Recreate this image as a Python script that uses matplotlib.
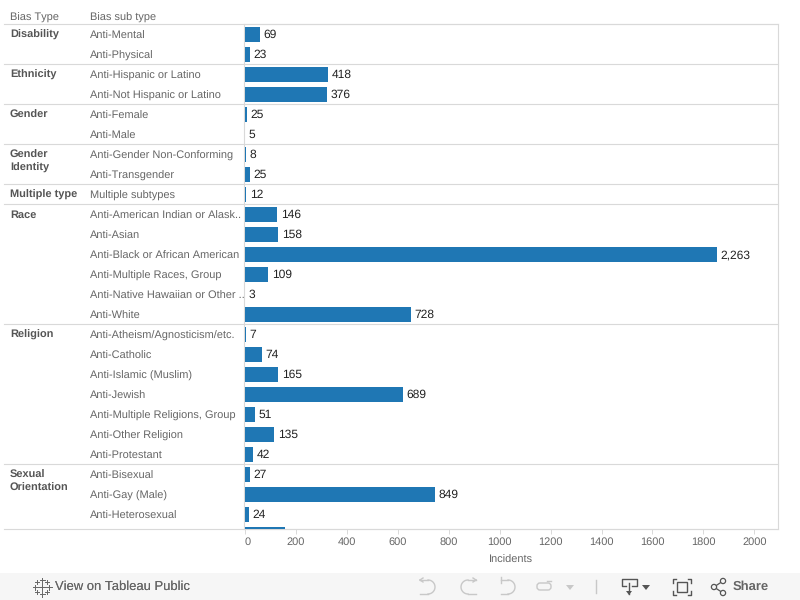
import matplotlib
matplotlib.use("Agg")
import numpy as np
from matplotlib import pyplot as plt
from matplotlib.patches import Rectangle, Circle, FancyBboxPatch
from matplotlib.transforms import blended_transform_factory

plt.rcParams['font.family'] = ['Liberation Sans', 'DejaVu Sans']
plt.rcParams['text.hinting'] = 'no_hinting'
plt.rcParams['text.hinting_factor'] = 1

# group name, number of rows
groups = ["Disability", "Ethnicity", "Gender", "Gender\nIdentity", "Multiple type",
          "Race", "Religion", "Sexual\nOrientation"]
group_sizes = [2, 2, 2, 2, 1, 6, 7, 3]

subtypes = ["Anti-Mental", "Anti-Physical",
            "Anti-Hispanic or Latino", "Anti-Not Hispanic or Latino",
            "Anti-Female", "Anti-Male",
            "Anti-Gender Non-Conforming", "Anti-Transgender",
            "Multiple subtypes",
            "Anti-American Indian or Alask..", "Anti-Asian", "Anti-Black or African American",
            "Anti-Multiple Races, Group", "Anti-Native Hawaiian or Other ..", "Anti-White",
            "Anti-Atheism/Agnosticism/etc.", "Anti-Catholic", "Anti-Islamic (Muslim)", "Anti-Jewish",
            "Anti-Multiple Religions, Group", "Anti-Other Religion", "Anti-Protestant",
            "Anti-Bisexual", "Anti-Gay (Male)", "Anti-Heterosexual"]

# bar lengths, they do not agree with the printed labels in the original
bar_lengths = [59, 20, 326, 322, 8, 0, 4, 20, 4, 126, 130, 1853, 90, 1, 652,
               4, 67, 130, 620, 39, 114, 31, 20, 746, 16]
bar_labels = ["69", "23", "418", "376", "25", "5", "8", "25", "12", "146", "158", "2,263",
              "109", "3", "728", "7", "74", "165", "689", "51", "135", "42", "27", "849", "24"]
# next row of the scrolling table, only its top edge shows
cut_off_bar = 157

x_ticks = [0, 200, 400, 600, 800, 1000, 1200, 1400, 1600, 1800, 2000]

GRID = "#d9d9d9"
GREY = "#666666"
BLUE = "#1f77b4"
ICON = "#c8c8c8"
DARK = "#555555"

fig = plt.figure(figsize=(8, 6), dpi=100)
ax = fig.add_axes([244.5/800, (600-529)/600, 533/800, 505/600])
ax.set_xlim(-2, 2091)
ax.set_ylim(24.75, -0.5)

rows = np.arange(len(subtypes))
ax.barh(rows, bar_lengths, height=0.75, color=BLUE, zorder=3)
ax.barh(len(subtypes), cut_off_bar, height=0.75, color=BLUE, zorder=3)

for r, w, lab in zip(rows, bar_lengths, bar_labels):
    ax.annotate(lab, (w, r), xytext=(2.7, 0), textcoords="offset points",
                va="center_baseline", fontsize=8.4, color="#222222")

for s in ax.spines.values():
    s.set_color(GRID)
    s.set_linewidth(0.8)
ax.set_yticks([])
ax.set_xticks(x_ticks)
ax.tick_params(axis="x", length=3.5, width=0.7, color=GRID, labelcolor=GREY, labelsize=8, pad=2.5)
ax.get_xticklabels()[0].set_x(0)
ax.get_xticklabels()[0].set_horizontalalignment("left")
ax.set_xlabel("Incidents", fontsize=8, color=GREY, labelpad=5)

# left hand table, x in figure fraction and y in rows
tr = blended_transform_factory(fig.transFigure, ax.transData)
for r, name in zip(rows, subtypes):
    ax.text(90/800, r + 0.04, name, transform=tr, fontsize=8, color=GREY, va="center_baseline", clip_on=False)

start = 0
ax.plot([4/800, 777.5/800], [-0.5, -0.5], transform=tr, color=GRID, lw=0.8, clip_on=False, zorder=2)
for name, n in zip(groups, group_sizes):
    ax.text(10/800, start - 0.5 + 0.29, name, transform=tr, fontsize=8, fontweight="bold", color=DARK,
            va="top", linespacing=1.35, clip_on=False)
    start += n
    if start < len(subtypes):
        ax.plot([4/800, 777.5/800], [start - 0.5, start - 0.5], transform=tr, color=GRID, lw=0.8,
                clip_on=False, zorder=2)
ax.plot([4/800, 777.5/800], [24.75, 24.75], transform=tr, color=GRID, lw=0.8, clip_on=False, zorder=2)

fig.text(10/800, 1 - 18/600, "Bias Type", fontsize=8, color=GREY, va="center")
fig.text(90/800, 1 - 18/600, "Bias sub type", fontsize=8, color=GREY, va="center")

# toolbar at the bottom, drawn in pixel coordinates
ui = fig.add_axes([0, 0, 1, 1], zorder=-1)
ui.set_xlim(0, 800)
ui.set_ylim(600, 0)
ui.axis("off")
ui.add_patch(Rectangle((0, 573), 800, 27, color="#f6f6f6", lw=0))
ui.text(55, 587, "View on Tableau Public", fontsize=9.15, color=GREY, va="center")
ui.text(55.3, 587, "View on Tableau Public", fontsize=9.15, color=GREY, va="center")
ui.text(733, 587, "Share", fontsize=9, color=GREY, va="center", fontweight="bold")

# tableau logo
for cx, cy, r in [(42, 587, 3.5), (42, 580, 2.5), (42, 594, 2.5), (35, 587, 2.5), (49, 587, 2.5),
                  (37, 582, 1.8), (47, 582, 1.8), (37, 592, 1.8), (47, 592, 1.8)]:
    ui.plot([cx-r, cx+r], [cy, cy], color=GREY, lw=0.7)
    ui.plot([cx, cx], [cy-r, cy+r], color=GREY, lw=0.7)

# undo / redo / reset / pause icons
t = np.linspace(-np.pi/2, np.pi/2, 30)
ui.plot(428 + 7*np.cos(t), 587 + 7*np.sin(t), color=ICON, lw=1)
ui.plot([420, 428], [580, 580], color=ICON, lw=1)
ui.plot([420, 423], [580, 578], color=ICON, lw=1)
ui.plot([420, 423], [580, 582], color=ICON, lw=1)
ui.plot([420, 428], [594, 594], color=ICON, lw=1)
ui.plot(468 - 7*np.cos(t), 587 + 7*np.sin(t), color=ICON, lw=1)
ui.plot([468, 476], [580, 580], color=ICON, lw=1)
ui.plot([476, 473], [580, 578], color=ICON, lw=1)
ui.plot([476, 473], [580, 582], color=ICON, lw=1)
ui.plot([468, 476], [594, 594], color=ICON, lw=1)
ui.plot(508 + 7*np.cos(t), 587 + 7*np.sin(t), color=ICON, lw=1)
ui.plot([501, 508], [580, 580], color=ICON, lw=1)
ui.plot([501, 501], [577, 583], color=ICON, lw=1)
ui.plot([501, 508], [594, 594], color=ICON, lw=1)
ui.add_patch(FancyBboxPatch((537, 583), 14, 7, boxstyle="round,pad=0,rounding_size=3",
                            fill=False, ec=ICON, lw=1))
ui.plot([547, 551], [581, 581], color=ICON, lw=1)
ui.fill([566, 574, 570], [585, 585, 590], color=ICON, lw=0)
ui.plot([595.5, 595.5], [580, 593], color=ICON, lw=1)

# download
ui.plot([626, 622, 622, 637, 637, 632], [586, 586, 579, 579, 586, 586], color=DARK, lw=1)
ui.plot([629, 629], [583, 594], color=DARK, lw=1)
ui.fill([626, 632, 629], [591, 591, 595], color=DARK, lw=0)
ui.fill([642, 650, 646], [585, 585, 590], color=DARK, lw=0)

# fullscreen
ui.add_patch(Rectangle((677, 582), 10, 10, fill=False, ec=DARK, lw=1))
for x0, dx in [(673, 3), (691, -3)]:
    ui.plot([x0+dx, x0, x0], [579, 579, 583], color=DARK, lw=1)
    ui.plot([x0+dx, x0, x0], [595, 595, 591], color=DARK, lw=1)

# share
ui.plot([723, 714, 723], [581, 587, 593], color=DARK, lw=0.9)
for cx, cy in [(723, 581), (714, 587), (723, 593)]:
    ui.add_patch(Circle((cx, cy), 2.6, fc="#f6f6f6", ec=DARK, lw=0.9, zorder=4))

fig.savefig("out.png", dpi=100)
